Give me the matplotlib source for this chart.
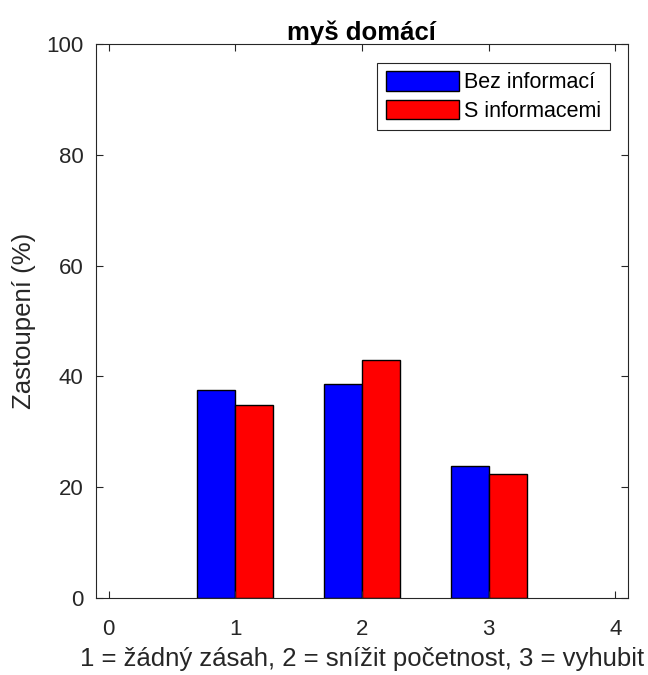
#!/usr/bin/env python3
import numpy as np
import matplotlib
matplotlib.use('Agg')
import matplotlib.pyplot as plt

categories = [1, 2, 3]
bez_informaci = [37.5, 38.6, 23.9]
s_informacemi = [34.8, 42.9, 22.3]
series_labels = ['Bez informací', 'S informacemi']
x_ticks = [0, 1, 2, 3, 4]
y_ticks = [0, 20, 40, 60, 80, 100]

plt.rcParams['font.family'] = ['Liberation Sans', 'DejaVu Sans']

fig = plt.figure(figsize=(6.48, 6.75), dpi=100)
ax = fig.add_axes([0.148, 0.114, 0.821, 0.821])

x = np.array(categories, dtype=float)
w = 0.3
ax.bar(x - w / 2, bez_informaci, width=w, color='#0000ff', edgecolor='black', linewidth=1.0,
       label=series_labels[0])
ax.bar(x + w / 2, s_informacemi, width=w, color='#ff0000', edgecolor='black', linewidth=1.0,
       label=series_labels[1])

ax.set_xlim(-0.1, 4.1)
ax.set_ylim(0, 100)
ax.set_xticks(x_ticks)
ax.set_yticks(y_ticks)

axis_col = '#262626'
for s in ax.spines.values():
    s.set_color(axis_col)
    s.set_linewidth(0.8)
ax.tick_params(direction='in', top=True, right=True, length=5, width=0.8,
               colors=axis_col, labelsize=16, labelcolor=axis_col)
ax.tick_params(axis='x', pad=15)
ax.tick_params(axis='y', pad=9)

ax.set_title('myš domácí', fontsize=18.5, fontweight='bold', pad=3)
ax.set_ylabel('Zastoupení (%)', fontsize=18.5, color=axis_col, labelpad=7)
ax.set_xlabel('1 = žádný zásah, 2 = snížit početnost, 3 = vyhubit', fontsize=18.5,
              color=axis_col, labelpad=5)

leg = ax.legend(loc='upper right', bbox_to_anchor=(0.966, 0.966), fontsize=15.5, fancybox=False,
                framealpha=1, edgecolor=axis_col, handlelength=3.4, handleheight=1.0,
                handletextpad=0.25, borderpad=0.4, labelspacing=0.3, borderaxespad=0)
leg.get_frame().set_linewidth(0.8)

fig.savefig('out.png', dpi=100)
